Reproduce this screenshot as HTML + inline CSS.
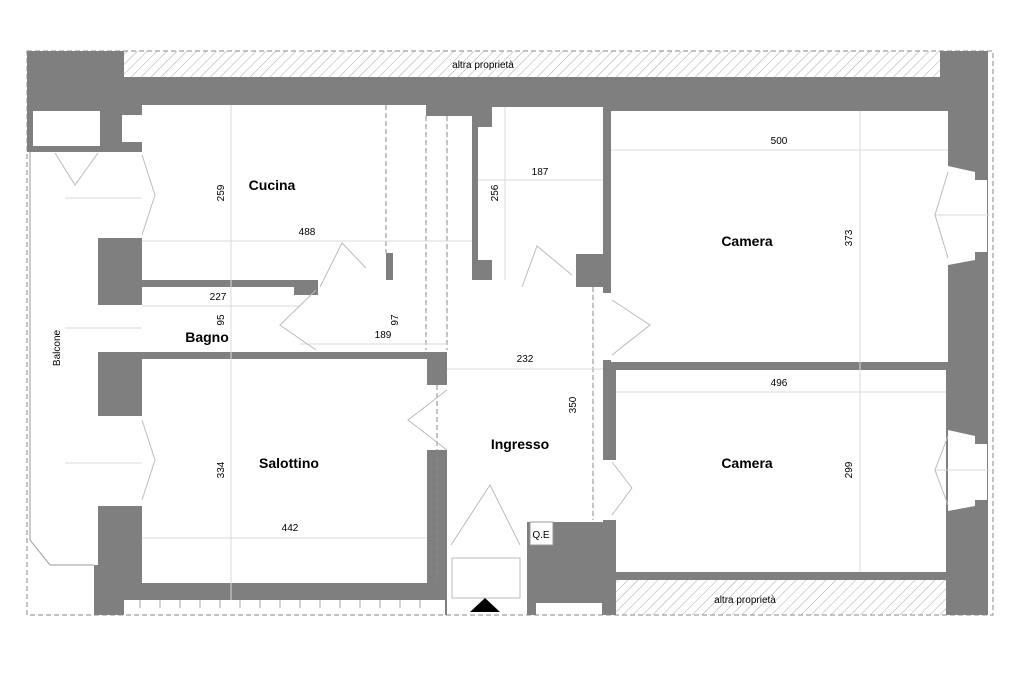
<!DOCTYPE html>
<html><head><meta charset="utf-8"><style>
html,body{margin:0;padding:0;background:#fff;}
svg{display:block;font-family:"Liberation Sans",Arial,sans-serif;}
.r{font-weight:bold;font-size:14px;fill:#000;}
.d{font-size:10px;fill:#000;}
.dl{stroke:#d8d8d8;stroke-width:1;fill:none;}
.w{fill:#fff;}
.g{fill:#7f7f7f;}
.ln{stroke:#bbb;stroke-width:1;fill:none;}
</style></head><body>
<svg width="1024" height="680" viewBox="0 0 1024 680">
<defs>
<pattern id="h" width="7" height="7" patternUnits="userSpaceOnUse" patternTransform="rotate(45)">
<rect width="7" height="7" fill="#fff"/><line x1="0" y1="0" x2="0" y2="7" stroke="#aaa" stroke-width="1"/>
</pattern>
</defs>
<rect x="27" y="51" width="961" height="564" class="g"/>
<rect x="124" y="51" width="816" height="26" fill="url(#h)"/>
<text x="483" y="68" class="d" text-anchor="middle">altra proprietà</text>
<rect x="33" y="111" width="67" height="35" class="w"/>
<rect x="122" y="115" width="20" height="27" class="w"/>
<!-- balcone -->
<rect x="27" y="152" width="71" height="463" class="w"/>
<path d="M30,152 L30,540 L50,565 L94,565" stroke="#999" fill="none"/>
<text class="d" transform="translate(60,348) rotate(-90)" text-anchor="middle" font-size="11">Balcone</text>
<rect x="94" y="565" width="4" height="50" class="g"/>
<rect x="98" y="152" width="44" height="86" class="w"/>
<rect x="98" y="305" width="44" height="47" class="w"/>
<rect x="98" y="416" width="44" height="90" class="w"/>
<rect x="142" y="105" width="330" height="175" class="w"/>
<rect x="426" y="105" width="46" height="11" class="g"/>
<rect x="386" y="253" width="7" height="27" class="g"/>
<rect x="478" y="107" width="125" height="173" class="w"/>
<rect x="478" y="107" width="14" height="20" class="g"/>
<rect x="478" y="260" width="14" height="20" class="g"/>
<rect x="576" y="254" width="30" height="33" class="g"/>
<rect x="142" y="287" width="305" height="65" class="w"/>
<rect x="294" y="280" width="24" height="15" class="g"/>
<rect x="447" y="287" width="156" height="235" class="w"/>
<rect x="318" y="280" width="200" height="7" class="w"/>
<rect x="518" y="280" width="58" height="7" class="w"/>
<rect x="447" y="522" width="80" height="93" class="w"/>
<rect x="142" y="359" width="285" height="224" class="w"/>
<rect x="427" y="385" width="20" height="65" class="w"/>
<rect x="611" y="111" width="337" height="251" class="w"/>
<rect x="603" y="293" width="8" height="67" class="w"/>
<rect x="616" y="370" width="330" height="202" class="w"/>
<rect x="603" y="362" width="13" height="8" class="g"/>
<rect x="603" y="460" width="13" height="60" class="w"/>
<rect x="530" y="522" width="23" height="23" fill="#fff" stroke="#999"/>
<text x="541" y="538" class="d" text-anchor="middle">Q.E</text>
<rect x="536" y="603" width="66" height="12" class="w"/>
<rect x="616" y="580" width="330" height="35" fill="url(#h)"/>
<text x="745" y="603" class="d" text-anchor="middle">altra proprietà</text>
<rect x="124" y="600" width="321" height="15" class="w"/>
<g stroke="#aaa">
<line x1="140" y1="600" x2="140" y2="608"/><line x1="160" y1="600" x2="160" y2="608"/><line x1="180" y1="600" x2="180" y2="608"/><line x1="200" y1="600" x2="200" y2="608"/><line x1="220" y1="600" x2="220" y2="608"/><line x1="240" y1="600" x2="240" y2="608"/><line x1="260" y1="600" x2="260" y2="608"/><line x1="280" y1="600" x2="280" y2="608"/><line x1="300" y1="600" x2="300" y2="608"/><line x1="320" y1="600" x2="320" y2="608"/><line x1="340" y1="600" x2="340" y2="608"/><line x1="360" y1="600" x2="360" y2="608"/><line x1="380" y1="600" x2="380" y2="608"/><line x1="400" y1="600" x2="400" y2="608"/><line x1="420" y1="600" x2="420" y2="608"/>
</g>
<polygon points="948,166 975,172 975,180 987,180 987,252 975,252 975,260 948,265" class="w"/>
<polygon points="948,430 975,436 975,444 987,444 987,500 975,500 975,506 948,511" class="w"/>
<g stroke="#888" stroke-dasharray="5,3" fill="none">
<rect x="27" y="51" width="966" height="564"/>
<line x1="386" y1="105" x2="386" y2="253"/>
<line x1="426" y1="116" x2="426" y2="350"/>
<line x1="447" y1="116" x2="447" y2="350"/>
<line x1="593" y1="287" x2="593" y2="520"/>
<line x1="437" y1="385" x2="437" y2="580"/>
</g>
<g class="dl">
<line x1="231" y1="105" x2="231" y2="600"/>
<line x1="142" y1="241" x2="472" y2="241"/>
<line x1="142" y1="306" x2="300" y2="306"/>
<line x1="300" y1="344" x2="447" y2="344"/>
<line x1="505" y1="107" x2="505" y2="280"/>
<line x1="478" y1="180" x2="603" y2="180"/>
<line x1="447" y1="369" x2="603" y2="369"/>
<line x1="611" y1="150" x2="948" y2="150"/>
<line x1="860" y1="111" x2="860" y2="572"/>
<line x1="616" y1="392" x2="946" y2="392"/>
<line x1="142" y1="538" x2="427" y2="538"/>
<line x1="65" y1="198" x2="142" y2="198"/>
<line x1="65" y1="328" x2="142" y2="328"/>
<line x1="65" y1="463" x2="142" y2="463"/>
<line x1="935" y1="215" x2="990" y2="215"/>
<line x1="935" y1="470" x2="990" y2="470"/>
</g>
<g class="ln">
<path d="M320,287 L342,243 L366,268"/>
<path d="M522,287 L537,246 L572,275"/>
<path d="M612,300 L650,325 L612,355"/>
<path d="M612,462 L632,488 L612,515"/>
<path d="M447,390 L408,420 L447,450"/>
<path d="M316,290 L280,325 L316,350"/>
<path d="M451,545 L490,485 L520,545"/>
<path d="M55,153 L75,185 L98,153"/>
<path d="M142,155 L155,195 L142,235"/>
<path d="M142,420 L155,460 L142,500"/>
<path d="M948,172 L935,215 L948,258"/>
<path d="M948,436 L935,470 L948,505"/>
<rect x="452" y="558" width="68" height="40"/>
</g>
<polygon points="470,612 485,598 500,612" fill="#000"/>
<text x="272" y="190" class="r" text-anchor="middle">Cucina</text>
<text x="207" y="342" class="r" text-anchor="middle">Bagno</text>
<text x="289" y="468" class="r" text-anchor="middle">Salottino</text>
<text x="520" y="449" class="r" text-anchor="middle">Ingresso</text>
<text x="747" y="246" class="r" text-anchor="middle">Camera</text>
<text x="747" y="468" class="r" text-anchor="middle">Camera</text>
<text x="307" y="235" class="d" text-anchor="middle">488</text>
<text x="218" y="300" class="d" text-anchor="middle">227</text>
<text x="383" y="338" class="d" text-anchor="middle">189</text>
<text x="540" y="175" class="d" text-anchor="middle">187</text>
<text x="525" y="362" class="d" text-anchor="middle">232</text>
<text x="779" y="144" class="d" text-anchor="middle">500</text>
<text x="779" y="386" class="d" text-anchor="middle">496</text>
<text x="290" y="531" class="d" text-anchor="middle">442</text>
<text class="d" text-anchor="middle" transform="translate(224,193) rotate(-90)">259</text>
<text class="d" text-anchor="middle" transform="translate(224,320) rotate(-90)">95</text>
<text class="d" text-anchor="middle" transform="translate(398,320) rotate(-90)">97</text>
<text class="d" text-anchor="middle" transform="translate(224,470) rotate(-90)">334</text>
<text class="d" text-anchor="middle" transform="translate(498,193) rotate(-90)">256</text>
<text class="d" text-anchor="middle" transform="translate(576,405) rotate(-90)">350</text>
<text class="d" text-anchor="middle" transform="translate(852,238) rotate(-90)">373</text>
<text class="d" text-anchor="middle" transform="translate(852,470) rotate(-90)">299</text>
</svg>
</body></html>
